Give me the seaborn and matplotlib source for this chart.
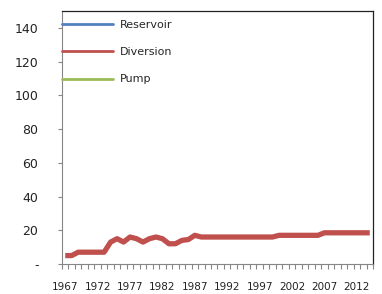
import numpy as np
import pandas as pd
import seaborn as sns
from matplotlib import pyplot as plt
from matplotlib.lines import Line2D

years = list(range(1967, 2015))
diversion = [5, 5, 7, 7, 7, 7, 7, 13, 15, 13, 16, 15, 13, 15, 16, 15, 12, 12, 14, 14.5,
             17, 16, 16, 16, 16, 16, 16, 16, 16, 16, 16, 16, 16, 17, 17, 17, 17, 17, 17, 17,
             18.5, 18.5, 18.5, 18.5, 18.5, 18.5, 18.5, 18.5]
reservoir = []
pump = []

series_names = ["Reservoir", "Diversion", "Pump"]
series_colors = ["#4F81BD", "#C0504D", "#9BBB59"]
y_ticks = [0, 20, 40, 60, 80, 100, 120, 140]
x_labels = list(range(1967, 2013, 5))


def main():
    sns.set_style("white")
    plt.rcParams['font.family'] = ['DejaVu Sans']

    fig = plt.figure(figsize=(3.82, 2.94), dpi=100)
    ax = fig.add_axes([62 / 382, 30 / 294, 311 / 382, 253 / 294])

    df = pd.DataFrame({"Year": years, "Diversion": diversion})
    sns.lineplot(data=df, x="Year", y="Diversion", ax=ax, color=series_colors[1],
                 linewidth=3.8, solid_capstyle="butt", solid_joinstyle="round")
    ax.plot(years[:len(reservoir)], reservoir, color=series_colors[0])
    ax.plot(years[:len(pump)], pump, color=series_colors[2])

    ax.set_xlim(years[0] - 0.5, years[-1] + 0.5)
    ax.set_ylim(0, 150)
    ax.set_xlabel("")
    ax.set_ylabel("")

    # y axis: excel style, zero shown as a dash
    ax.set_yticks(y_ticks)
    ax.set_yticklabels(["-" if v == 0 else str(v) for v in y_ticks], fontsize=9, color="#222222")
    ax.tick_params(axis="y", length=3, width=0.8, color="#868686", pad=14, left=True)

    # x axis: tick marks between categories, labels every five years
    bounds = np.arange(years[0] - 0.5, years[-1] + 1, 1.0)
    ax.set_xticks(bounds)
    ax.set_xticklabels([""] * len(bounds))
    ax.set_xticks(x_labels, minor=True)
    ax.set_xticklabels([str(y) for y in x_labels], minor=True, fontsize=7.5, color="#222222")
    ax.tick_params(axis="x", which="major", length=3.5, width=0.8, color="#868686", bottom=True)
    ax.tick_params(axis="x", which="minor", length=0, pad=13)

    for side in ["left", "bottom"]:
        ax.spines[side].set_color("#868686")
        ax.spines[side].set_linewidth(0.8)
    for side in ["top", "right"]:
        ax.spines[side].set_color("#222222")
        ax.spines[side].set_linewidth(0.9)

    handles = [Line2D([], [], color=c, linewidth=2) for c in series_colors]
    fig.legend(handles, series_names, loc="upper left", bbox_to_anchor=(62 / 382, 0.932),
               frameon=False, fontsize=8, handlelength=4.6, handletextpad=0.6,
               labelspacing=1.55, borderpad=0, borderaxespad=0)

    plt.savefig("out.png", dpi=100)


if __name__ == "__main__":
    main()
